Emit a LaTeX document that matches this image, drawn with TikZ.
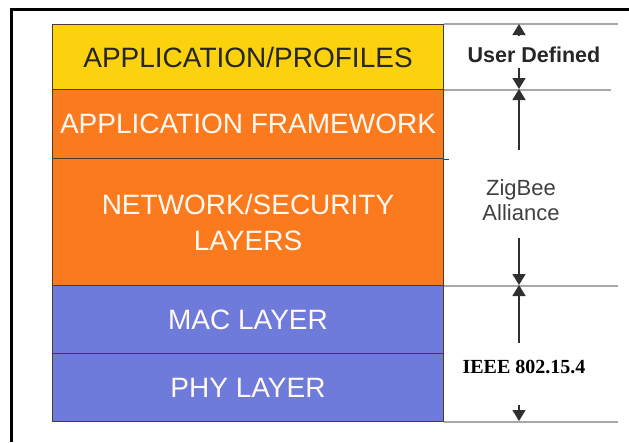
\documentclass[tikz,border=0pt]{standalone}
\usepackage{fontspec}
\setmainfont{Liberation Sans}
\newfontfamily\timesfont{Liberation Serif}
\usetikzlibrary{arrows.meta}
\definecolor{ylw}{HTML}{FCD20F}
\definecolor{org}{HTML}{FC7A1E}
\definecolor{blu}{HTML}{6F7BDA}
\definecolor{edge}{HTML}{4A3A30}
\definecolor{gln}{HTML}{A8A8A8}
\definecolor{arrc}{HTML}{303030}
\begin{document}
\begin{tikzpicture}[x=1pt,y=-1pt,
  layer/.style={draw=edge, line width=1pt, anchor=north west, minimum width=391pt,
    inner sep=0pt, align=center, text=white!95!orange,
    font=\fontsize{28}{36}\selectfont},
  gline/.style={draw=gln, line width=1.2pt},
  arr/.style={draw=arrc, line width=1.5pt, -{Triangle[width=13pt,length=11pt]}},
  lbl/.style={inner sep=0pt, align=center}]
\useasboundingbox (0,0) rectangle (629,442);
\fill[white] (0,0) rectangle (629,442);
\draw[line width=3pt] (11,442) -- (11,9) -- (629,9);

\node[layer, fill=ylw, text=black!85, minimum height=65pt] (app) at (52,24) {APPLICATION/PROFILES};
\node[layer, fill=org, minimum height=69pt] (fw) at (52,89) {APPLICATION FRAMEWORK};
\node[layer, fill=org, minimum height=127pt] (net) at (52,158) {NETWORK/SECURITY\\LAYERS};
\node[layer, fill=blu, minimum height=68pt] (mac) at (52,285) {MAC LAYER};
\node[layer, fill=blu, minimum height=68pt] (phy) at (52,353) {PHY LAYER};

\draw[gline] (app.north east) -- ++(174,0);
\draw[gline] (app.south east) -- ++(167,0);
\draw[draw=edge, line width=1pt] (fw.south east) -- ++(5,0);
\draw[gline] (net.south east) -- ++(174,0);
\draw[gline] (phy.south east) -- ++(174,0);

\node[lbl, font=\bfseries\fontsize{21.5}{26}\selectfont, text=black!85] (ud) at (534,55) {User Defined};
\node[lbl, font=\fontsize{22}{25}\selectfont, text=black!75] (zb) at (521,200) {ZigBee\\Alliance};
\node[lbl, font=\timesfont\bfseries\fontsize{20}{24}\selectfont] (ieee) at (524,367) {IEEE 802.15.4};

\coordinate (t0) at (519,24);
\coordinate (s0) at (519,35);
\coordinate (t1) at (519,89);
\coordinate (s1a) at (519,68);
\coordinate (s1b) at (519,150);
\coordinate (t2) at (519,285);
\coordinate (s2a) at (519,238);
\coordinate (s2b) at (519,343);
\coordinate (t3) at (519,421);
\coordinate (s3) at (519,405);

\draw[arr] (s0) -- (t0);
\draw[arr] (s1a) -- (t1);
\draw[arr] (s1b) -- (t1);
\draw[arr] (s2a) -- (t2);
\draw[arr] (s2b) -- (t2);
\draw[arr] (s3) -- (t3);
\end{tikzpicture}
\end{document}
